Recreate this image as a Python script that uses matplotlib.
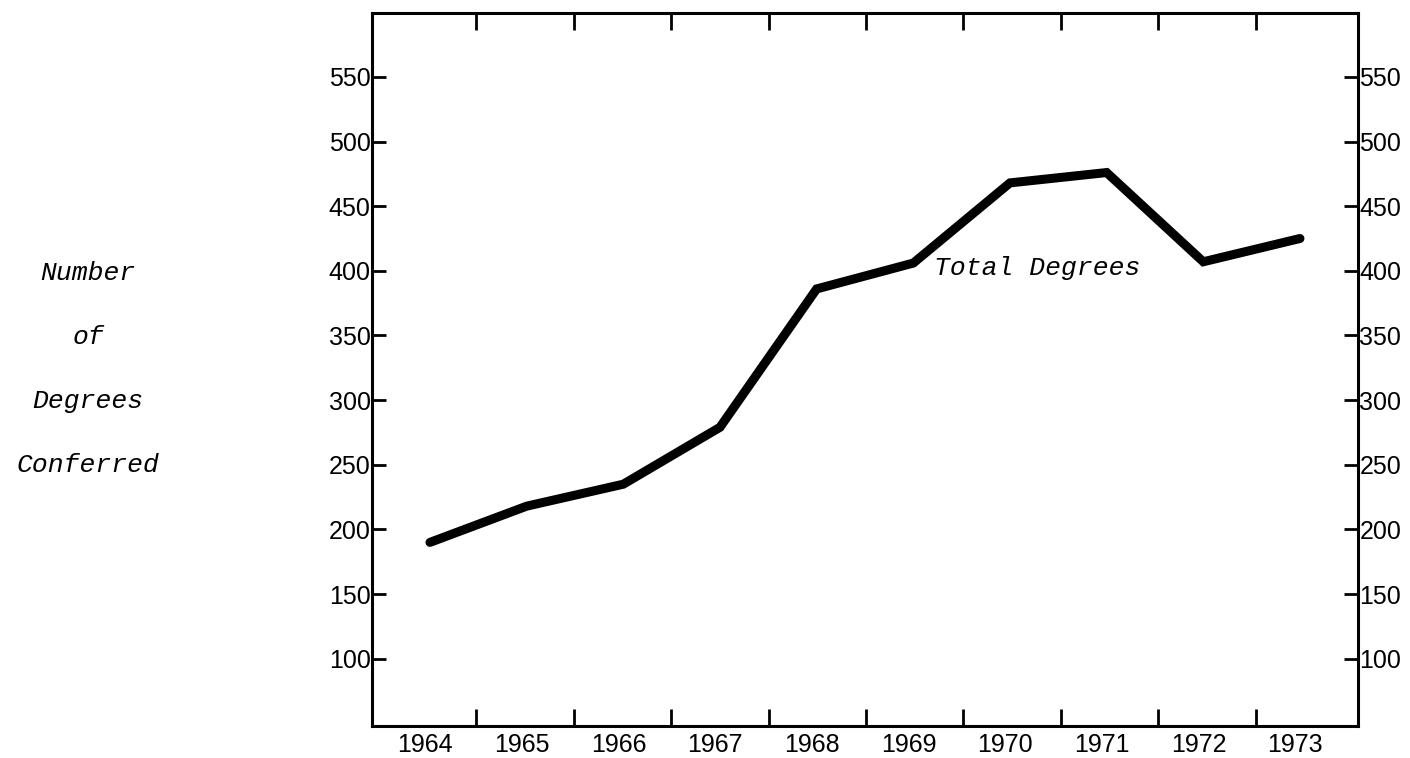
import numpy as np
import matplotlib
matplotlib.use("Agg")
import matplotlib.pyplot as plt

# data
years = [1964, 1965, 1966, 1967, 1968, 1969, 1970, 1971, 1972, 1973]
total_degrees = [190, 218, 235, 279, 386, 406, 468, 476, 407, 425]
y_ticks = [100, 150, 200, 250, 300, 350, 400, 450, 500, 550]
ylabel_lines = ["Number", "of", "Degrees", "Conferred"]

num_font = "Liberation Sans"
type_font = "Liberation Mono"

fig = plt.figure(figsize=(14.1, 7.58), dpi=100)
ax = fig.add_axes([0.2638, 0.0422, 0.6993, 0.94])

ax.plot(years, total_degrees, color="black", lw=6.5, solid_capstyle="round",
        solid_joinstyle="miter")

ax.set_xlim(1963.40, 1973.60)
ax.set_ylim(48, 599)

# year labels sit between the tick marks
ax.set_xticks([y - 0.05 for y in years])
ax.set_xticklabels([str(y) for y in years], fontfamily=num_font, fontsize=18)
ax.tick_params(axis="x", which="major", length=0, pad=5)
ax.set_xticks(np.linspace(1964.48, 1972.54, 9), minor=True)
ax.tick_params(axis="x", which="minor", direction="in", length=12, width=2,
               top=True, bottom=True)

ax.set_yticks(y_ticks)
ax.set_yticklabels([str(v) for v in y_ticks], fontfamily=num_font, fontsize=18)
ax.tick_params(axis="y", direction="in", length=10, width=2, pad=1,
               left=True, right=True, labelleft=True, labelright=True)
ax.yaxis.set_minor_locator(matplotlib.ticker.NullLocator())

for s in ax.spines.values():
    s.set_linewidth(2.2)

ax.text(1969.21, 402, "Total Degrees", fontfamily=type_font, style="italic",
        fontsize=19, ha="left", va="center")

for i, t in enumerate(ylabel_lines):
    fig.text(0.0624, 1 - (273 + 64 * i) / 758, t, fontfamily=type_font,
             style="italic", fontsize=19, ha="center", va="center")

fig.savefig("out.png", dpi=100, facecolor="white")
